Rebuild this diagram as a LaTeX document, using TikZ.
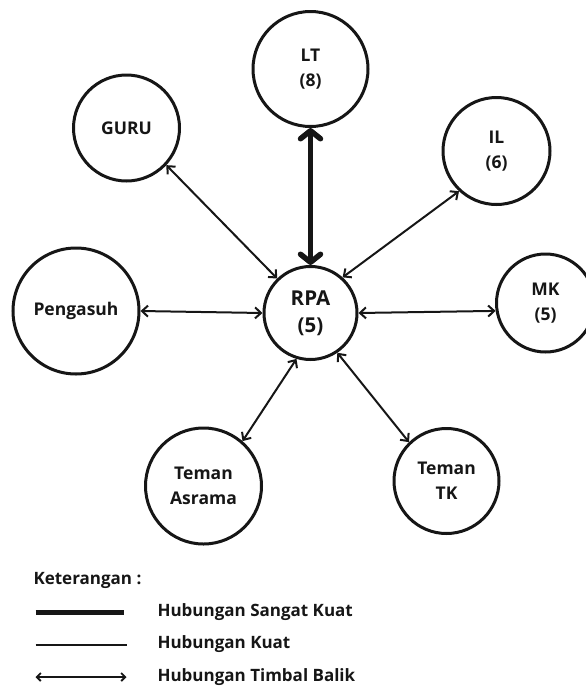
\documentclass[tikz,border=0pt]{standalone}
\usepackage{fontspec}
\setmainfont{Open Sans}
\usetikzlibrary{arrows.meta}
\definecolor{inkblack}{RGB}{22,22,22}

\tikzset{
  person/.style={circle, draw=inkblack, text=inkblack, line width=3pt, inner sep=0pt,
    align=center, font=\bfseries\fontsize{17.5}{25}\selectfont},
  tie/.style={{Straight Barb[length=6pt,width=11pt]}-{Straight Barb[length=6pt,width=11pt]},
    line width=2pt, inkblack},
  strongtie/.style={{Straight Barb[length=8pt,width=20pt,round]}-{Straight Barb[length=8pt,width=20pt,round]},
    line width=5.5pt, inkblack},
  keytext/.style={anchor=west, text=inkblack, font=\bfseries\fontsize{17}{20}\selectfont}
}

\begin{document}
\begin{tikzpicture}[x=1pt, y=-1pt]
    \useasboundingbox (0,0) rectangle (586,686);
    \clip (0,0) rectangle (586,686);

    % Centre person
    \node[person, minimum size=93pt, font=\bfseries\fontsize{20.5}{27}\selectfont] (RPA) at (310.5, 313) {RPA\\(5)};

    % Surrounding persons
    \node[person, minimum size=115pt] (LT) at (310.5, 69) {LT\\(8)};
    \node[person, minimum size=106pt] (GURU) at (126.5, 128) {GURU};
    \node[person, minimum size=107pt] (IL) at (496.5, 151) {IL\\(6)};
    \node[person, minimum size=126pt] (Peng) at (76, 311) {Pengasuh};
    \node[person, minimum size=98pt] (MK) at (545.5, 303) {MK\\(5)};
    \node[person, minimum size=116pt] (TA) at (203.5, 486) {Teman\\Asrama};
    \node[person, minimum size=105pt] (TK) at (446.5, 481) {Teman\\TK};

    % Relations
    \draw[strongtie] (LT.south) -- (RPA.north);
    \draw[tie] (GURU.-43) -- (RPA.134);
    \draw[tie] (IL.227) -- (RPA.48);
    \draw[tie] (Peng.east) -- (RPA.west);
    \draw[tie] (RPA.east) -- (MK.189);
    \draw[tie] (RPA.253) -- (TA.49);
    \draw[tie] (RPA.-56) -- (TK.134);

    % Legend
    \node[keytext] (key) at (30, 580) {Keterangan :};
    \coordinate (k1a) at (35.5, 612.5);
    \coordinate (k1b) at (123.5, 612.5);
    \coordinate (k2a) at (35.5, 644.5);
    \coordinate (k2b) at (126.5, 644.5);
    \coordinate (k3a) at (35.5, 677);
    \coordinate (k3b) at (126.5, 677);
    \draw[line width=4.2pt, inkblack] (k1a) -- (k1b);
    \draw[line width=2pt, inkblack] (k2a) -- (k2b);
    \draw[{Straight Barb[length=4pt,width=8pt]}-{Straight Barb[length=4pt,width=8pt]}, line width=1.8pt, inkblack] (k3a) -- (k3b);
    \node[keytext] (key1) at (154, 612.5) {Hubungan Sangat Kuat};
    \node[keytext] (key2) at (154, 644.5) {Hubungan Kuat};
    \node[keytext] (key3) at (154, 677) {Hubungan Timbal Balik};
\end{tikzpicture}
\end{document}
